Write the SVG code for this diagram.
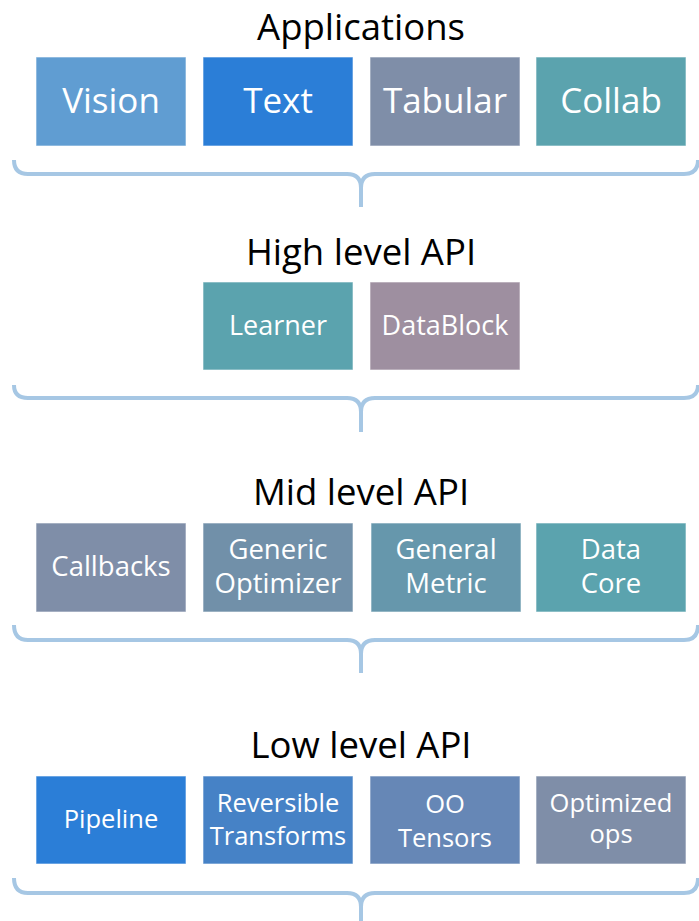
<svg xmlns="http://www.w3.org/2000/svg" width="699" height="921" viewBox="0 0 699 921">
<style>
.title{font-family:"Open Sans","Liberation Sans",sans-serif;font-size:36.5px;fill:#000;text-anchor:middle}
.box{stroke:#ffffff;stroke-opacity:0.6;stroke-width:1}
.l1{font-family:"Open Sans","Liberation Sans",sans-serif;font-size:35px;fill:#fff;text-anchor:middle}
.l2{font-family:"Open Sans","Liberation Sans",sans-serif;font-size:27px;fill:#fff;text-anchor:middle}
.l3{font-family:"Open Sans","Liberation Sans",sans-serif;font-size:27.5px;fill:#fff;text-anchor:middle}
.l4{font-family:"Open Sans","Liberation Sans",sans-serif;font-size:25.5px;fill:#fff;text-anchor:middle}
.brace{fill:none;stroke:#a6c7e4;stroke-width:4;stroke-linecap:butt}
</style>
<rect width="699" height="921" fill="#fff"/>
<g id="titles">
<text class="title" x="361" y="40">Applications</text>
<text class="title" x="361" y="265">High level API</text>
<text class="title" x="361" y="505">Mid level API</text>
<text class="title" x="361" y="758">Low level API</text>
</g>
<g id="vision"><rect class="box" x="36" y="57" width="150" height="89" fill="#609dd2"/><text class="l1" x="111" y="113">Vision</text></g>
<g id="text"><rect class="box" x="203" y="57" width="150" height="89" fill="#2b7ed7"/><text class="l1" x="278" y="113">Text</text></g>
<g id="tabular"><rect class="box" x="370" y="57" width="150" height="89" fill="#7f8ea8"/><text class="l1" x="445" y="113">Tabular</text></g>
<g id="collab"><rect class="box" x="536" y="57" width="150" height="89" fill="#5ba3ae"/><text class="l1" x="611" y="113">Collab</text></g>

<g id="learner"><rect class="box" x="203" y="282" width="150" height="88" fill="#5ba3ae"/><text class="l2" x="278" y="335">Learner</text></g>
<g id="datablock"><rect class="box" x="370" y="282" width="150" height="88" fill="#9e8fa0"/><text class="l2" x="445" y="335">DataBlock</text></g>

<g id="callbacks"><rect class="box" x="36" y="523" width="150" height="89" fill="#7f8ea8"/><text class="l3" x="111" y="576">Callbacks</text></g>
<g id="generic-optimizer"><rect class="box" x="203" y="523" width="150" height="89" fill="#7190a9"/><text class="l3" x="278" y="559">Generic</text><text class="l3" x="278" y="593">Optimizer</text></g>
<g id="general-metric"><rect class="box" x="371" y="523" width="150" height="89" fill="#6697ac"/><text class="l3" x="446" y="559">General</text><text class="l3" x="446" y="593">Metric</text></g>
<g id="data-core"><rect class="box" x="536" y="523" width="150" height="89" fill="#5ba3ae"/><text class="l3" x="611" y="559">Data</text><text class="l3" x="611" y="593">Core</text></g>

<g id="pipeline"><rect class="box" x="36" y="776" width="150" height="88" fill="#2b7ed7"/><text class="l4" x="111" y="828">Pipeline</text></g>
<g id="reversible-transforms"><rect class="box" x="203" y="776" width="150" height="88" fill="#4682c6"/><text class="l4" x="278" y="812">Reversible</text><text class="l4" x="278" y="845">Transforms</text></g>
<g id="oo-tensors"><rect class="box" x="370" y="776" width="150" height="88" fill="#6687b6"/><text class="l4" x="445" y="813">OO</text><text class="l4" x="445" y="847">Tensors</text></g>
<g id="optimized-ops"><rect class="box" x="536" y="776" width="150" height="88" fill="#7f8ea8"/><text class="l4" x="611" y="812">Optimized</text><text class="l4" x="611" y="843">ops</text></g>

<g id="connectors">
<path class="brace" d="M14,160 Q14,174 28,174 H347 Q361,174 361,188 V207 M361,188 Q361,174 375,174 H684 Q698,174 698,160"/>
<path class="brace" d="M14,385 Q14,398 28,398 H347 Q361,398 361,412 V432 M361,412 Q361,398 375,398 H684 Q698,398 698,385"/>
<path class="brace" d="M14,625 Q14,640 28,640 H347 Q361,640 361,654 V673 M361,654 Q361,640 375,640 H684 Q698,640 698,625"/>
<path class="brace" d="M14,878 Q14,893 28,893 H347 Q361,893 361,907 V921 M361,907 Q361,893 375,893 H684 Q698,893 698,878"/>
</g>
</svg>
